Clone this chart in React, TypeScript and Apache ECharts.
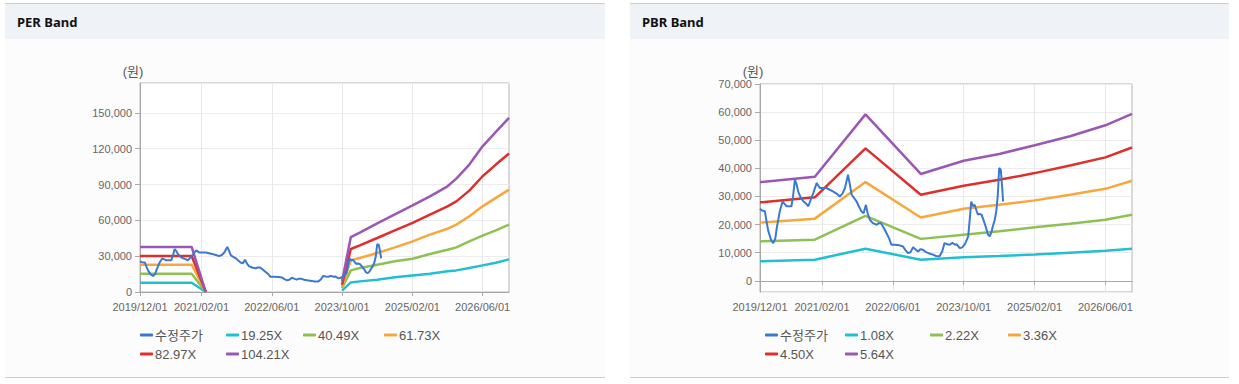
import React, { useEffect, useRef } from 'react';
import * as echarts from 'echarts';

// ---- axis / tick labels ----
const xTickLabels = ['2019/12/01', '2021/02/01', '2022/06/01', '2023/10/01', '2025/02/01', '2026/06/01'];
const axisStart = '2019-12-01';
const axisEnd = '2026-12-01';

// ---- adjusted price (수정주가) ----
const priceDates = [
  '2019-12-01', '2019-12-15', '2020-01-04', '2020-01-15', '2020-01-28', '2020-02-15', '2020-03-01', '2020-03-15', '2020-03-25', '2020-04-15',
  '2020-05-04', '2020-05-15', '2020-06-01', '2020-06-15', '2020-07-04', '2020-07-15', '2020-07-28', '2020-08-10', '2020-08-19', '2020-09-07',
  '2020-09-25', '2020-10-12', '2020-10-28', '2020-11-15', '2020-12-01', '2020-12-25', '2021-01-15', '2021-02-01', '2021-03-01', '2021-04-15',
  '2021-05-10', '2021-06-01', '2021-06-20', '2021-07-07', '2021-07-28', '2021-08-07', '2021-08-22', '2021-09-07', '2021-09-25', '2021-10-10',
  '2021-10-28', '2021-11-12', '2021-11-28', '2021-12-10', '2021-12-25', '2022-01-15', '2022-02-10', '2022-02-25', '2022-03-12', '2022-04-01',
  '2022-04-18', '2022-05-07', '2022-05-22', '2022-06-15', '2022-07-18', '2022-08-10', '2022-08-28', '2022-09-15', '2022-10-01', '2022-10-18',
  '2022-11-07', '2022-11-22', '2022-12-07', '2022-12-25', '2023-01-12', '2023-02-01', '2023-03-04', '2023-03-25', '2023-04-18', '2023-05-07',
  '2023-05-22', '2023-06-10', '2023-06-28', '2023-07-15', '2023-08-04', '2023-08-13', '2023-09-04', '2023-09-18', '2023-10-07', '2023-10-18',
  '2023-11-01', '2023-11-12', '2023-11-22', '2023-12-04', '2023-12-15', '2023-12-28', '2024-01-07', '2024-01-18', '2024-02-01', '2024-02-15',
  '2024-03-04', '2024-03-15', '2024-03-28', '2024-04-10', '2024-04-18', '2024-05-01', '2024-05-12', '2024-05-22', '2024-06-01', '2024-06-12',
  '2024-06-22', '2024-06-28',
];
const priceValues = [
  25600, 25000, 24700, 21000, 17500, 14500, 13400, 15000, 18700, 24700,
  28200, 27500, 26500, 26500, 26500, 30000, 36000, 34000, 31800, 29500,
  28200, 27500, 26500, 29000, 31200, 34800, 33000, 33000, 33000, 31800,
  31000, 30000, 31000, 33000, 37700, 35000, 30600, 29500, 28200, 26500,
  24700, 24000, 27000, 24000, 21700, 20500, 19900, 20500, 20500, 18700,
  17000, 15000, 12800, 12800, 12600, 12200, 10800, 9800, 10200, 11900,
  11000, 10400, 11200, 11000, 10300, 9800, 9300, 8800, 8700, 10500,
  13400, 13000, 12800, 13500, 12800, 13000, 11600, 11800, 12800, 14000,
  15800, 22000, 28200, 26500, 27000, 25000, 23500, 23800, 23500, 21500,
  18700, 16500, 15800, 17500, 19300, 21500, 24700, 30000, 40100, 39500,
  33000, 28200,
];

// ---- PER band ----
const perBandNames = ['19.25X', '40.49X', '61.73X', '82.97X', '104.21X'];
const perBandDates = [
  '2019-12-01', '2020-11-23', '2021-03-01', '2022-06-01', '2023-10-01', '2023-12-01', '2024-02-01', '2024-06-01', '2024-10-01',
  '2025-02-01', '2025-06-01', '2025-10-01', '2025-12-01', '2026-03-01', '2026-06-01', '2026-09-01', '2026-12-01',
];
const per1925 = [7800, 7800, 0, null, 1100, 8000, 8900, 10300, 12300, 13900, 15300, 17300, 18100, 20100, 22300, 24500, 27300];
const per4049 = [15300, 15300, 0, null, 3300, 18100, 20100, 22900, 25700, 27900, 31800, 35400, 37400, 42400, 47200, 51600, 56400];
const per6173 = [22900, 22900, 0, null, 4700, 26500, 28500, 32700, 37400, 42400, 48000, 53000, 56400, 63400, 71700, 78800, 85700];
const per8297 = [30200, 30200, 0, null, 6100, 36000, 39100, 45200, 51600, 57800, 64800, 71700, 75900, 84900, 96900, 106700, 115900];
const per10421 = [37700, 37700, 0, null, 9000, 46000, 49700, 57500, 65000, 72600, 80100, 88500, 94900, 106700, 122000, 134000, 145800];

// ---- PBR band ----
const pbrBandNames = ['1.08X', '2.22X', '3.36X', '4.50X', '5.64X'];
const pbrBandDates = [
  '2019-12-01', '2020-12-12', '2021-11-25', '2022-12-10', '2023-10-01', '2024-06-01', '2025-02-01', '2025-10-01', '2026-06-01', '2026-12-01',
];
const pbr108 = [6900, 7500, 11400, 7500, 8400, 8800, 9300, 10000, 10700, 11400];
const pbr222 = [14000, 14600, 23100, 14900, 16400, 17600, 19000, 20300, 21700, 23500];
const pbr336 = [20700, 22100, 35100, 22500, 25600, 27000, 28600, 30600, 32700, 35600];
const pbr450 = [27900, 29700, 47100, 30600, 33800, 35900, 38300, 41000, 43900, 47400];
const pbr564 = [35100, 37000, 59200, 38000, 42700, 45100, 48200, 51400, 55300, 59400];

const priceName = '수정주가';
const priceColor = '#3a78d2';
const bandColors = ['#22bfd3', '#8dc153', '#f8a73c', '#df2f2d', '#9b57b4'];

const FONT = "'Liberation Sans', Arial, 'Noto Sans CJK KR', sans-serif";

function monthCategories(): string[] {
  const out: string[] = [];
  let y = 2019;
  let m = 12;
  while (y < 2026 || (y === 2026 && m <= 12)) {
    out.push(`${y}/${String(m).padStart(2, '0')}/01`);
    m += 1;
    if (m > 12) { m = 1; y += 1; }
  }
  return out;
}

const showTick = (_i: number, v: string) => xTickLabels.includes(v);

function pairs(dates: string[], vals: (number | null)[]) {
  return dates.map((d, i) => [d, vals[i]]);
}

export default function App() {
  const ref = useRef<HTMLDivElement>(null);

  useEffect(() => {
    if (!ref.current) return;
    const chart = echarts.init(ref.current, undefined, { renderer: 'svg' });
    const cats = monthCategories();

    const catAxis = (gridIndex: number) => ({
      type: 'category',
      gridIndex,
      data: cats,
      boundaryGap: false,
      axisLine: { show: true, lineStyle: { color: '#a8a8a8', width: 1 } },
      axisTick: { show: true, interval: showTick, length: 4, lineStyle: { color: '#a8a8a8' } },
      axisLabel: { interval: showTick, fontSize: 11, color: '#666', margin: 9, fontFamily: FONT },
      splitLine: { show: true, interval: showTick, lineStyle: { color: '#e8e8e8', width: 1 } },
    });
    const timeAxis = (gridIndex: number) => ({
      type: 'time', gridIndex, min: axisStart, max: axisEnd, show: false,
    });

    const valAxisCommon = {
      type: 'value',
      axisLine: { show: true, lineStyle: { color: '#a8a8a8', width: 1 } },
      axisTick: { show: true, length: 5, lineStyle: { color: '#a8a8a8' } },
      splitLine: { show: true, lineStyle: { color: '#ececec', width: 1 } },
    };

    const lineSeries = (name: string, data: any[], color: string, xi: number, yi: number, width: number, z: number) => ({
      type: 'line', name, data, xAxisIndex: xi, yAxisIndex: yi,
      showSymbol: false, symbol: 'none', connectNulls: false,
      lineStyle: { color, width }, itemStyle: { color }, z,
      emphasis: { disabled: true },
    });

    const perVals = [per1925, per4049, per6173, per8297, per10421];
    const pbrVals = [pbr108, pbr222, pbr336, pbr450, pbr564];

    const series: any[] = [];
    perVals.forEach((v, i) => series.push(lineSeries(perBandNames[i], pairs(perBandDates, v), bandColors[i], 1, 0, 2.5, 2)));
    series.push(lineSeries(priceName, pairs(priceDates, priceValues), priceColor, 1, 0, 2, 3));
    pbrVals.forEach((v, i) => series.push(lineSeries(pbrBandNames[i], pairs(pbrBandDates, v), bandColors[i], 3, 1, 2.5, 2)));
    series.push(lineSeries(priceName, pairs(priceDates, priceValues), priceColor, 3, 1, 2, 3));

    const legendItem = (name: string, left: number, top: number) => ({
      show: true, left, top, padding: 0, selectedMode: false,
      data: [{ name }], icon: 'roundRect', itemWidth: 13, itemHeight: 3,
      textStyle: { fontSize: 13, color: '#555', fontFamily: FONT, lineHeight: 14, padding: [0, 0, 0, -3] },
    });
    const perNames = [priceName, ...perBandNames];
    const pbrNames = [priceName, ...pbrBandNames];
    const perPos = [[140, 328], [226, 328], [303, 328], [384, 328], [140, 347], [226, 347]];
    const pbrPos = [[765, 328], [845, 328], [930, 328], [1008, 328], [765, 347], [845, 347]];
    const legends = [
      ...perNames.map((n, i) => legendItem(n, perPos[i][0], perPos[i][1])),
      ...pbrNames.map((n, i) => legendItem(n, pbrPos[i][0], pbrPos[i][1])),
    ];

    const panel = (x: number, w: number, title: string) => [
      { type: 'rect', shape: { x, y: 4, width: w, height: 373 }, style: { fill: '#fcfcfc' }, z: -10, silent: true },
      { type: 'rect', shape: { x, y: 4, width: w, height: 35 }, style: { fill: '#eff2f7' }, z: -9, silent: true },
      { type: 'line', shape: { x1: x, y1: 3.5, x2: x + w, y2: 3.5 }, style: { stroke: '#cdcdcd', lineWidth: 1 }, z: -8, silent: true },
      { type: 'line', shape: { x1: x, y1: 377.5, x2: x + w, y2: 377.5 }, style: { stroke: '#cdcdcd', lineWidth: 1 }, z: -8, silent: true },
      {
        type: 'text', x: x + 12, y: 22, z: -7, silent: true,
        style: { text: title, fontSize: 13, fontWeight: 'bold', fontFamily: "'Noto Sans', sans-serif", fill: '#111', verticalAlign: 'middle' },
      },
    ];

    chart.setOption({
      animation: false,
      backgroundColor: '#ffffff',
      graphic: [
        ...panel(5, 600, 'PER Band'),
        ...panel(630, 599, 'PBR Band'),
        { type: 'text', x: 133, y: 71, silent: true, style: { text: '(원)', fontSize: 13, fill: '#555', fontFamily: FONT, align: 'center', verticalAlign: 'middle' } },
        { type: 'text', x: 753, y: 71, silent: true, style: { text: '(원)', fontSize: 13, fill: '#555', fontFamily: FONT, align: 'center', verticalAlign: 'middle' } },
      ],
      grid: [
        { left: 140, top: 83, width: 369, height: 209, show: true, borderColor: '#b4b4b4', borderWidth: 1, backgroundColor: '#ffffff' },
        { left: 760, top: 84, width: 372, height: 208, show: true, borderColor: '#b4b4b4', borderWidth: 1, backgroundColor: '#ffffff' },
      ],
      xAxis: [catAxis(0), timeAxis(0), catAxis(1), timeAxis(1)],
      yAxis: [
        {
          ...valAxisCommon, gridIndex: 0, min: 0, max: 175000, interval: 30000,
          axisLabel: { showMaxLabel: false, fontSize: 11, color: '#666', margin: 8, fontFamily: FONT },
        },
        {
          ...valAxisCommon, gridIndex: 1, min: -4000, max: 70000, minInterval: 10000, maxInterval: 10000,
          axisLabel: { showMinLabel: false, fontSize: 11, color: '#666', margin: 8, fontFamily: FONT },
        },
      ],
      legend: legends,
      tooltip: { show: false },
      series,
    });

    return () => chart.dispose();
  }, []);

  return (
    <div style={{ position: 'absolute', left: 0, top: 0, width: 1239, height: 384, background: '#fff' }}>
      <div ref={ref} style={{ width: 1239, height: 384 }} />
    </div>
  );
}
